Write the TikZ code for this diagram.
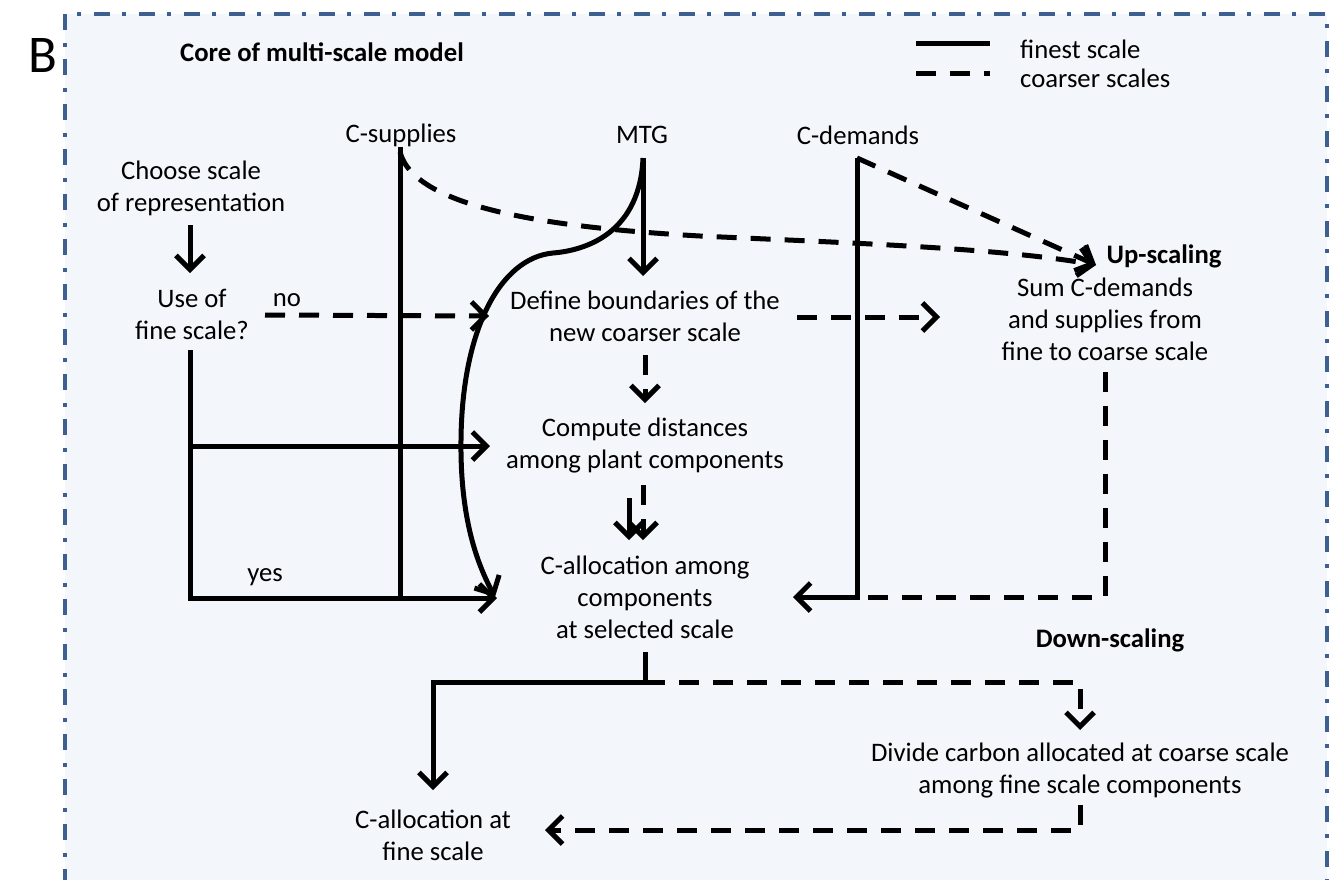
\documentclass[tikz,border=0pt]{standalone}
\usepackage{fontspec}
\setmainfont{Carlito}
\usetikzlibrary{arrows.meta}
\definecolor{bordercol}{RGB}{62,96,145}
\definecolor{bgcol}{RGB}{243,246,250}
\begin{document}
\begin{tikzpicture}[x=1pt,y=-1pt,
  tx/.style={align=center,font=\fontsize{26.7}{32}\selectfont,inner sep=0pt},
  tb/.style={font=\fontsize{26.7}{32}\selectfont\bfseries,inner sep=0pt},
  sl/.style={line width=5pt},
  dl/.style={line width=5pt,dash pattern=on 20pt off 14pt},
  arr/.style={-{Straight Barb[length=14pt,width=28pt]}},
  framestyle/.style={bordercol,line width=4.5pt,dash pattern=on 16pt off 12pt on 4pt off 13pt}
]
\useasboundingbox (0,0) rectangle (1330,879);
\clip (0,0) rectangle (1330,879);
\fill[bgcol] (65,14) rectangle (1327,930);
\draw[framestyle] (65,930) -- (65,14) -- (1327,14) -- (1327,930);

% text nodes
\node[font=\fontsize{53}{60}\selectfont,inner sep=0pt] (B) at (43,55) {B};
\node[tb] (core) at (322,52) {Core of multi-scale model};
\node[tx,anchor=west] (lfine) at (1020,49) {finest scale};
\node[tx,anchor=west] (lcoarse) at (1020,78) {coarser scales};
\node[tx] (choose) at (191,188) {Choose scale\\of representation};
\node[tx] (use) at (192,314) {Use of\\fine scale?};
\node[tx] (no) at (287,300) {no};
\node[tx] (yes) at (265,577) {yes};
\node[tx] (csup) at (401,135) {C-supplies};
\node[tx] (mtg) at (642,135) {MTG};
\node[tx] (cdem) at (858,135) {C-demands};
\node[tx] (define) at (645,316) {Define boundaries of the\\new coarser scale};
\node[tx] (compute) at (645,446) {Compute distances\\among plant components};
\node[tx] (callsel) at (645,597) {C-allocation among\\components\\at selected scale};
\node[tb] (up) at (1164,256) {Up-scaling};
\node[tx] (sum) at (1105,319) {Sum C-demands\\and supplies from\\fine to coarse scale};
\node[tb] (down) at (1110,640) {Down-scaling};
\node[tx] (divide) at (1080,771) {Divide carbon allocated at coarse scale\\among fine scale components};
\node[tx] (cfine) at (433,835) {C-allocation at\\fine scale};

% named points
\coordinate (legS1) at (916,43); \coordinate (legS2) at (990,43);
\coordinate (legD1) at (916,73); \coordinate (legD2) at (990,73);
\coordinate (chooseOut) at (190,225); \coordinate (useIn) at (190,273);
\coordinate (noStart) at (265,315); \coordinate (noEnd) at (489,316);
\coordinate (useOut) at (190,350); \coordinate (useMid) at (190,446);
\coordinate (useLow) at (190,598);
\coordinate (compIn) at (490,446); \coordinate (callIn) at (497,598);
\coordinate (csupTop) at (400,147); \coordinate (csupBot) at (400,598);
\coordinate (csupCurve) at (400,152);
\coordinate (upTip) at (1096,265);
\coordinate (mtgTop) at (643,158); \coordinate (defIn) at (643,276);
\coordinate (curveEnd) at (495,597);
\coordinate (cdemTop) at (857,158); \coordinate (cdemBot) at (857,597);
\coordinate (callInR) at (793,597);
\coordinate (defOut) at (797,317); \coordinate (sumIn) at (940,317);
\coordinate (defDown) at (645,355); \coordinate (compUp) at (645,403);
\coordinate (compOutD) at (643,485); \coordinate (callTopD) at (643,540);
\coordinate (compOutS) at (629,498); \coordinate (callTopS) at (629,540);
\coordinate (sumOut) at (1105,372); \coordinate (sumCorner) at (1105,597);
\coordinate (callOut) at (645,652); \coordinate (split) at (645,682);
\coordinate (leftCorner) at (433,682); \coordinate (cfineIn) at (433,790);
\coordinate (rightCorner) at (1080,682); \coordinate (divIn) at (1080,730);
\coordinate (divOut) at (1080,805); \coordinate (divCorner) at (1080,830);
\coordinate (cfineInR) at (545,830);

% legend
\draw[sl] (legS1) -- (legS2);
\draw[dl] (legD1) -- (legD2);

% connectors
\draw[sl,arr] (chooseOut) -- (useIn);
\draw[dl,arr] (noStart) -- (noEnd);
\draw[sl,arr] (useOut) -- (useLow) -- (callIn);
\draw[sl,arr] (useMid) -- (compIn);
\draw[sl] (csupTop) -- (csupBot);
\draw[dl,arr] (csupCurve) .. controls (415,210) and (560,228) .. (700,236)
  .. controls (850,243) and (1000,248) .. (upTip);
\draw[sl,arr] (mtgTop) -- (defIn);
\draw[sl,arr] (mtgTop) .. controls (640,230) and (590,250) .. (553,253)
  .. controls (500,258) and (462,330) .. (461,440)
  .. controls (460,520) and (478,565) .. (curveEnd);
\draw[sl,arr] (cdemTop) -- (cdemBot) -- (callInR);
\draw[dl,arr] (cdemTop) -- (upTip);
\draw[dl,arr] (defOut) -- (sumIn);
\draw[dl,arr] (defDown) -- (compUp);
\draw[dl,arr] (compOutD) -- (callTopD);
\draw[sl,arr] (compOutS) -- (callTopS);
\draw[dl] (sumOut) -- (sumCorner) -- (cdemBot);
\draw[sl,arr] (callOut) -- (split) -- (leftCorner) -- (cfineIn);
\draw[dl,arr] (split) -- (rightCorner) -- (divIn);
\draw[dl,arr] (divOut) -- (divCorner) -- (cfineInR);
\end{tikzpicture}
\end{document}
